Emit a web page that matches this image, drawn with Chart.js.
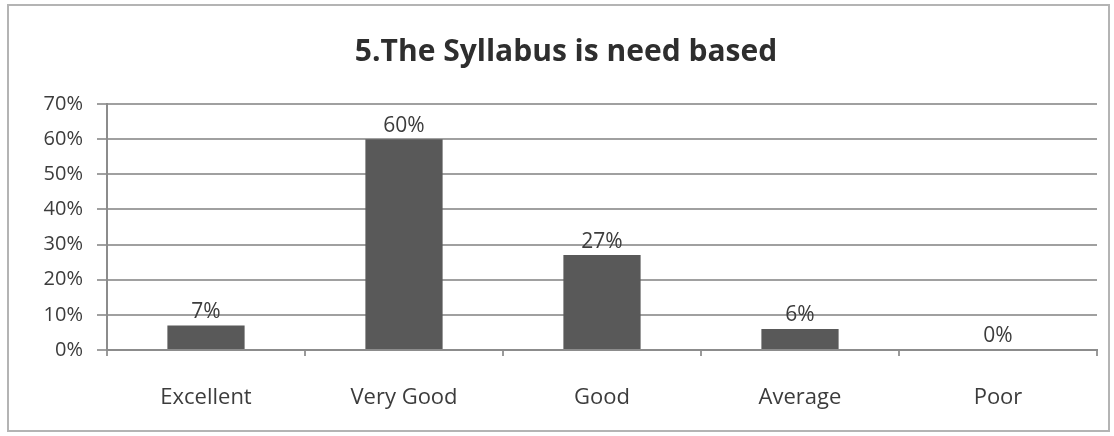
<!DOCTYPE html>
<html>
<head>
<meta charset="utf-8">
<script src="https://cdn.jsdelivr.net/npm/chart.js@4"></script>
<style>
    body { margin: 0; background: #fff; }
    #wrap { position: relative; width: 1114px; height: 436px; }
    #frame { position: absolute; left: 7px; top: 4px; width: 1099px; height: 424px; border: 2px solid #b4b4b4; pointer-events: none; }
</style>
</head>
<body>
<div id="wrap">
    <canvas id="syllabusChart" width="1114" height="436"></canvas>
    <div id="frame"></div>
</div>
<script>
const categories = ['Excellent', 'Very Good', 'Good', 'Average', 'Poor'];
const percentages = [7, 60, 27, 6, 0];
const chartTitle = '5.The Syllabus is need based';

// draws the % value above each bar
const barLabels = {
    id: 'barLabels',
    afterDatasetsDraw(chart) {
        const ctx = chart.ctx;
        const meta = chart.getDatasetMeta(0);
        ctx.save();
        ctx.font = '21px "Open Sans", sans-serif';
        ctx.fillStyle = '#3c3c3c';
        ctx.textAlign = 'center';
        ctx.textBaseline = 'bottom';
        meta.data.forEach((bar, i) => {
            ctx.fillText(percentages[i] + '%', bar.x, bar.y - 3);
        });
        ctx.restore();
    }
};

document.addEventListener('DOMContentLoaded', () => {
    const ctx = document.getElementById('syllabusChart').getContext('2d');

    new Chart(ctx, {
        type: 'bar',
        data: {
            labels: categories,
            datasets: [{
                data: percentages,
                backgroundColor: '#595959',
                borderWidth: 0,
                categoryPercentage: 0.39,
                barPercentage: 1
            }]
        },
        options: {
            responsive: false,
            animation: false,
            layout: { padding: { left: 35, right: 17, top: 0, bottom: 0 } },
            plugins: {
                legend: { display: false },
                tooltip: { enabled: false },
                title: {
                    display: true,
                    text: chartTitle,
                    color: '#2e2e2e',
                    font: { family: '"Open Sans", sans-serif', size: 30, weight: 'bold' },
                    padding: { top: 34, bottom: 34 }
                }
            },
            scales: {
                x: {
                    offset: true,
                    grid: {
                        offset: true,
                        drawOnChartArea: false,
                        tickLength: 6,
                        color: '#9a9a9a',
                        lineWidth: 2
                    },
                    border: { color: '#8c8c8c', width: 2 },
                    ticks: {
                        color: '#3c3c3c',
                        padding: 29,
                        font: { family: '"Open Sans", sans-serif', size: 22 }
                    },
                    afterFit: scale => { scale.height = 86; }
                },
                y: {
                    min: 0,
                    max: 70,
                    ticks: {
                        stepSize: 10,
                        color: '#3c3c3c',
                        padding: 14,
                        font: { family: '"Open Sans", sans-serif', size: 20 },
                        callback: v => v + '%'
                    },
                    grid: {
                        color: '#a0a0a0',
                        lineWidth: 2,
                        tickLength: 10
                    },
                    border: { color: '#8c8c8c', width: 2 },
                    afterFit: scale => { scale.width = 72; }
                }
            }
        },
        plugins: [barLabels]
    });
});
</script>
</body>
</html>
